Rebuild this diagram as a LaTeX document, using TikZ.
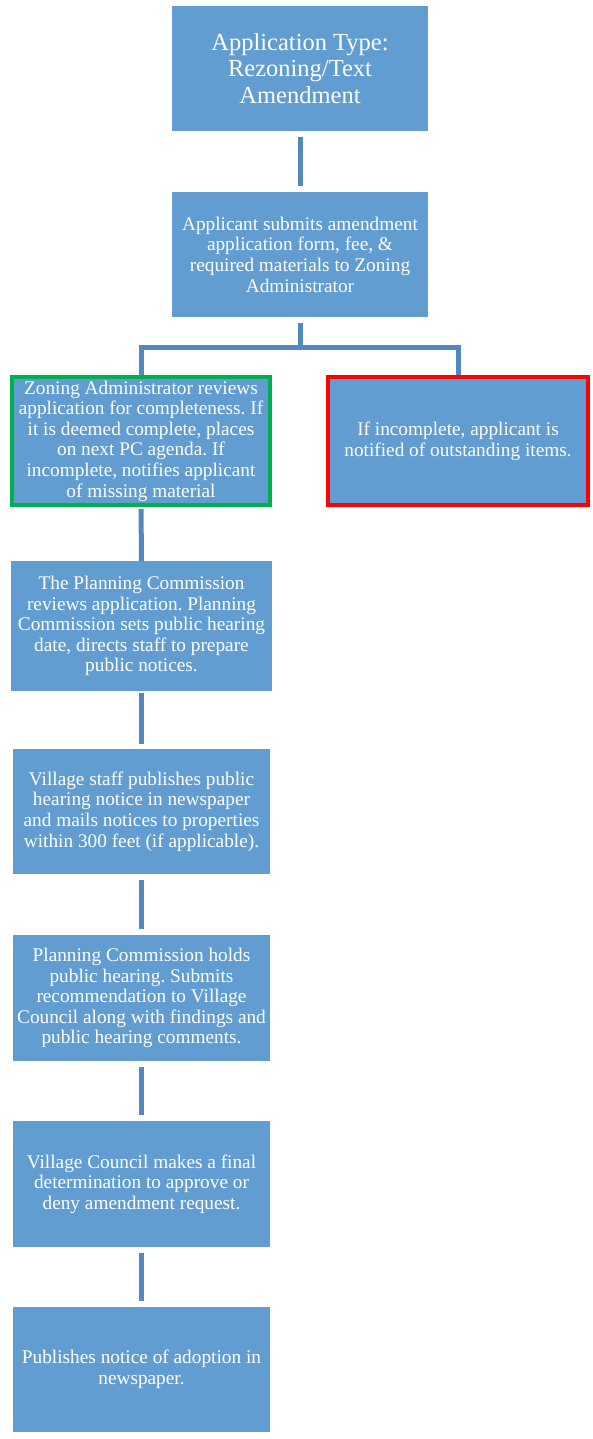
\documentclass[tikz,border=0pt]{standalone}
\usepackage{fontspec}
\setmainfont{Liberation Serif}
\frenchspacing
\definecolor{boxfill}{RGB}{98,157,209}
\definecolor{connc}{RGB}{84,137,190}
\definecolor{okgreen}{RGB}{0,176,80}
\definecolor{badred}{RGB}{255,0,0}
\begin{document}
\begin{tikzpicture}[x=1pt,y=-1pt]
\tikzset{
  stepbox/.style={fill=boxfill, draw=none, text=white, align=center, inner sep=0pt,
     font=\fontsize{19.3}{20.6}\selectfont},
  conn/.style={draw=connc, line width=5pt, line cap=butt, line join=miter},
}
\useasboundingbox (0,0) rectangle (593,1439);
\node[stepbox, minimum width=256pt, minimum height=125pt, font=\fontsize{24.5}{26.5}\selectfont] (t1) at (300,68.5)
  {Application Type:\\Rezoning/Text\\Amendment};
\node[stepbox, minimum width=256pt, minimum height=125pt] (t2) at (300,254.5)
  {Applicant submits amendment\\application form, fee, \&\\required materials to Zoning\\Administrator};
\node[stepbox, minimum width=258pt, minimum height=128pt, draw=okgreen, line width=4pt] (za) at (141,441)
  {Zoning Administrator reviews\\application for completeness. If\\it is deemed complete, places\\on next PC agenda. If\\incomplete, notifies applicant\\of missing material};
\node[stepbox, minimum width=260pt, minimum height=128pt, draw=badred, line width=4pt] (inc) at (458,441)
  {If incomplete, applicant is\\notified of outstanding items.};
\node[stepbox, minimum width=261pt, minimum height=130pt] (pc) at (141.5,626)
  {The Planning Commission\\reviews application. Planning\\Commission sets public hearing\\date, directs staff to prepare\\public notices.};
\node[stepbox, minimum width=257pt, minimum height=125pt] (vs) at (141.5,811.5)
  {Village staff publishes public\\hearing notice in newspaper\\and mails notices to properties\\within 300 feet (if applicable).};
\node[stepbox, minimum width=257pt, minimum height=126pt] (ph) at (141.5,998)
  {Planning Commission holds\\public hearing. Submits\\recommendation to Village\\Council along with findings and\\public hearing comments.};
\node[stepbox, minimum width=257pt, minimum height=126pt] (vc) at (141.5,1184)
  {Village Council makes a final\\determination to approve or\\deny amendment request.};
\node[stepbox, minimum width=257pt, minimum height=125pt] (pn) at (141.5,1369.5)
  {Publishes notice of adoption in\\newspaper.};
\coordinate (j) at (300,347);
\draw[conn, shorten <=6pt, shorten >=6pt] (t1.south) -- (t2.north);
\draw[conn, shorten <=6pt] (t2.south) -- (j);
\draw[conn] (j) -| (za.north);
\draw[conn] (j) -| (inc.north);
\draw[conn, shorten <=2pt] (za.south) -- (pc.north);
\draw[conn, shorten <=2pt, shorten >=5pt] (pc.south) -- (vs.north);
\draw[conn, shorten <=6pt, shorten >=6pt] (vs.south) -- (ph.north);
\draw[conn, shorten <=6pt, shorten >=6pt] (ph.south) -- (vc.north);
\draw[conn, shorten <=6pt, shorten >=6pt] (vc.south) -- (pn.north);
\end{tikzpicture}
\end{document}
